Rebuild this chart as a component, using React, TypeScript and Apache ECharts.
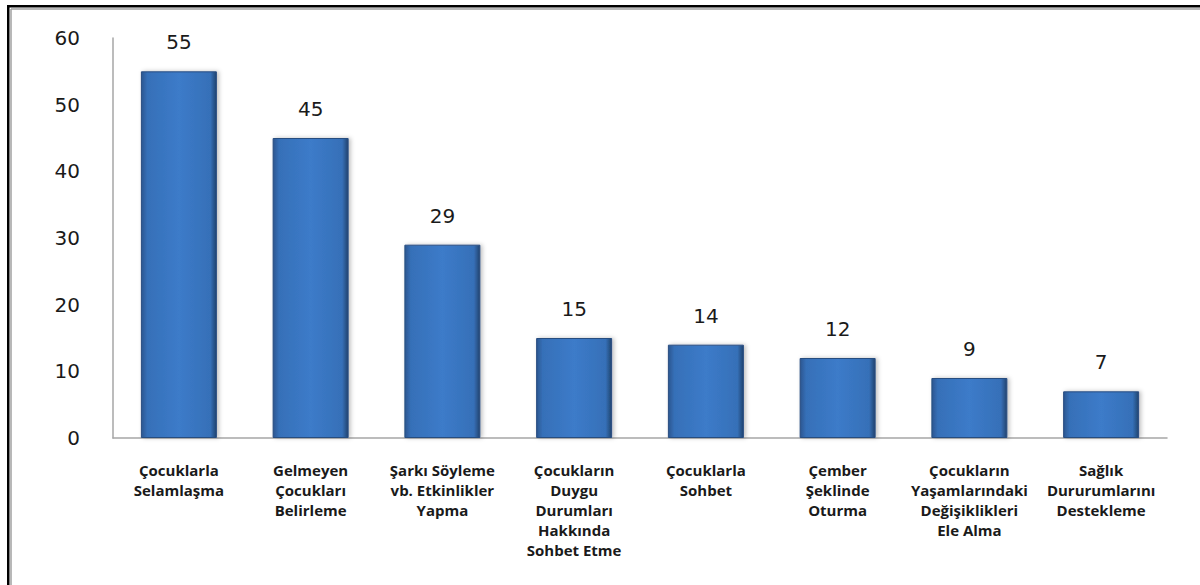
import React, { useEffect, useRef } from "react";
import * as echarts from "echarts";

const categories = [
  "Çocuklarla\nSelamlaşma",
  "Gelmeyen\nÇocukları\nBelirleme",
  "Şarkı Söyleme\nvb. Etkinlikler\nYapma",
  "Çocukların\nDuygu\nDurumları\nHakkında\nSohbet Etme",
  "Çocuklarla\nSohbet",
  "Çember\nŞeklinde\nOturma",
  "Çocukların\nYaşamlarındaki\nDeğişiklikleri\nEle Alma",
  "Sağlık\nDururumlarını\nDestekleme",
];
const values = [55, 45, 29, 15, 14, 12, 9, 7];
const yTicks = [0, 10, 20, 30, 40, 50, 60];

export default function App() {
  const ref = useRef<HTMLDivElement>(null);
  useEffect(() => {
    document.body.style.margin = "0";
    const chart = echarts.init(ref.current!, null, { renderer: "svg" });
    chart.setOption({
      animation: false,
      backgroundColor: "#ffffff",
      grid: { left: 113, right: 33, top: 38, bottom: 147, containLabel: false },
      xAxis: {
        type: "category",
        data: categories,
        axisLine: { lineStyle: { color: "#a6a6a6", width: 1.5 } },
        axisTick: { show: false },
        axisLabel: {
          interval: 0,
          margin: 22,
          color: "#1a1a1a",
          fontFamily: "Open Sans",
          fontWeight: "bold",
          fontSize: 15,
          lineHeight: 20,
          align: "center",
        },
      },
      yAxis: {
        type: "value",
        min: yTicks[0],
        max: yTicks[yTicks.length - 1],
        interval: 10,
        axisLine: { show: true, lineStyle: { color: "#a6a6a6", width: 1.5 } },
        axisTick: { show: false },
        splitLine: { show: false },
        axisLabel: {
          margin: 33,
          color: "#1a1a1a",
          fontFamily: "DejaVu Sans",
          fontSize: 20,
        },
      },
      series: [
        {
          type: "bar",
          data: values,
          barWidth: 76,
          itemStyle: {
            color: new echarts.graphic.LinearGradient(0, 0, 1, 0, [
              { offset: 0, color: "#2b5690" },
              { offset: 0.08, color: "#3670b8" },
              { offset: 0.5, color: "#3c7bc9" },
              { offset: 0.92, color: "#3670b8" },
              { offset: 1, color: "#21446f" },
            ]),
            borderColor: "#284d80",
            borderWidth: 1,
            shadowColor: "rgba(0,0,0,0.25)",
            shadowBlur: 4,
            shadowOffsetX: 2,
          },
          label: {
            show: true,
            position: "top",
            distance: 19,
            color: "#1a1a1a",
            fontFamily: "DejaVu Sans",
            fontSize: 20,
          },
        },
      ],
      graphic: [
        { type: "rect", shape: { x: 7, y: 5, width: 2.5, height: 580 }, style: { fill: "#000" } },
        { type: "rect", shape: { x: 7, y: 5, width: 1193, height: 2.5 }, style: { fill: "#000" } },
        { type: "line", shape: { x1: 11, y1: 9, x2: 11, y2: 585 }, style: { stroke: "#a0a0a0", lineWidth: 1.5 } },
        { type: "line", shape: { x1: 11, y1: 9, x2: 1200, y2: 9 }, style: { stroke: "#a0a0a0", lineWidth: 1.5 } },
      ],
    });
    return () => chart.dispose();
  }, []);
  return <div ref={ref} style={{ position: "absolute", left: 0, top: 0, width: 1200, height: 585 }} />;
}
